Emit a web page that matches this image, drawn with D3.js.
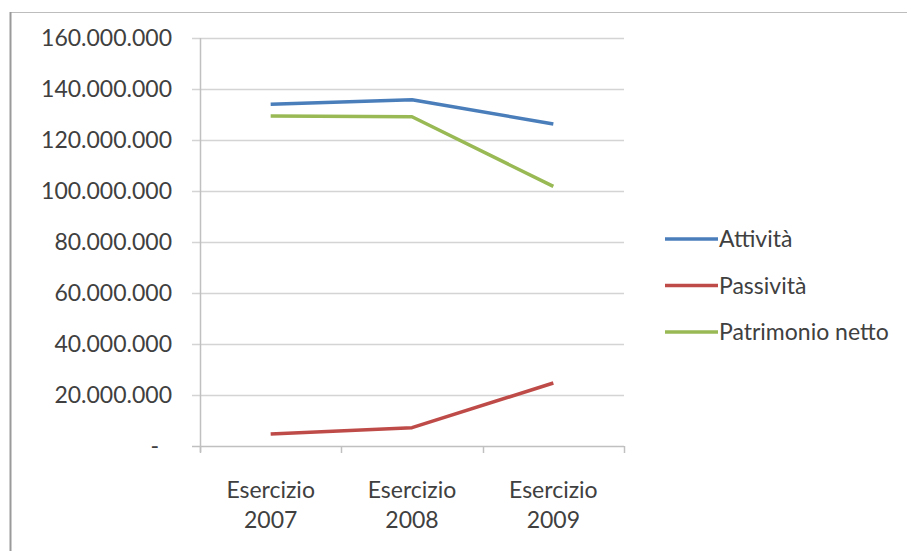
<!DOCTYPE html>
<html>
<head>
<meta charset="utf-8">
<script src="https://cdn.jsdelivr.net/npm/d3@7"></script>
<style>
  body { margin: 0; background: #fff; }
  svg text { font-family: Lato, "Open Sans", sans-serif; fill: #404040; }
</style>
</head>
<body>
<svg width="907" height="551"></svg>
<script>
var categories = ["Esercizio 2007", "Esercizio 2008", "Esercizio 2009"],
    seriesNames = ["Attività", "Passività", "Patrimonio netto"],
    attivita = [134000000, 135800000, 126300000],
    passivita = [4700000, 7200000, 24700000],
    patrimonio = [129400000, 129100000, 101800000],
    yTicks = [0, 20000000, 40000000, 60000000, 80000000, 100000000, 120000000, 140000000, 160000000],
    colors = ["#4a7ebb", "#be4b48", "#98b954"];

var series = [attivita, passivita, patrimonio].map(function(v, i) {
  return {name: seriesNames[i], values: v, color: colors[i]};
});

var svg = d3.select("svg");

// outer frame
svg.append("line").attr("x1", 10).attr("x2", 907).attr("y1", 12.5).attr("y2", 12.5)
    .attr("stroke", "#bdbdbd").attr("stroke-width", 1);
svg.append("line").attr("x1", 10.5).attr("x2", 10.5).attr("y1", 12).attr("y2", 551)
    .attr("stroke", "#9a9a9a").attr("stroke-width", 2);

var x = d3.scaleBand().domain(categories).range([200, 624]),
    y = d3.scaleLinear().domain([0, 160000000]).range([446, 38]);

var fmt = function(d) {
  return d === 0 ? "-" : d3.format(",")(d).replace(/,/g, ".");
};

// gridlines
svg.append("g").selectAll("line").data(yTicks.filter(function(d) { return d > 0; }))
  .enter().append("line")
    .attr("x1", 192).attr("x2", 624)
    .attr("y1", function(d) { return Math.round(y(d)) + 0.5; })
    .attr("y2", function(d) { return Math.round(y(d)) + 0.5; })
    .attr("stroke", "#d4d4d4").attr("stroke-width", 1.5);

// axes
svg.append("line").attr("x1", 200.5).attr("x2", 200.5).attr("y1", 38).attr("y2", 452)
    .attr("stroke", "#c0c0c0").attr("stroke-width", 1.5);
svg.append("line").attr("x1", 192).attr("x2", 624).attr("y1", 446.5).attr("y2", 446.5)
    .attr("stroke", "#c0c0c0").attr("stroke-width", 1.5);

svg.append("g").selectAll("text").data(yTicks).enter().append("text")
    .attr("x", function(d) { return d === 0 ? 159 : 172; })
    .attr("y", function(d) { return y(d); })
    .attr("dy", "0.35em")
    .attr("text-anchor", "end")
    .style("font-size", "23px")
    .text(fmt);

// x ticks
var xTickPos = categories.map(function(c) { return x(c); }).concat([x.range()[1]]);
svg.append("g").selectAll("line").data(xTickPos).enter().append("line")
    .attr("x1", function(d) { return Math.round(d) + 0.5; })
    .attr("x2", function(d) { return Math.round(d) + 0.5; })
    .attr("y1", 446).attr("y2", 453)
    .attr("stroke", "#c0c0c0").attr("stroke-width", 1.5);

var xl = svg.append("g").selectAll("text").data(categories).enter().append("text")
    .attr("x", function(d) { return x(d) + x.bandwidth() / 2; })
    .attr("y", 490)
    .attr("text-anchor", "middle")
    .style("font-size", "23px");
xl.append("tspan").attr("dy", "0.35em").text(function(d) { return d.split(" ")[0]; });
xl.append("tspan")
    .attr("x", function(d) { return x(d) + x.bandwidth() / 2; })
    .attr("dy", "1.3em")
    .text(function(d) { return d.split(" ")[1]; });

// lines
var line = d3.line()
    .x(function(d, i) { return x(categories[i]) + x.bandwidth() / 2; })
    .y(function(d) { return y(d); });

svg.append("g").selectAll("path").data(series).enter().append("path")
    .attr("d", function(d) { return line(d.values); })
    .attr("fill", "none")
    .attr("stroke", function(d) { return d.color; })
    .attr("stroke-width", 3.5)
    .attr("stroke-linejoin", "round");

// legend
var leg = svg.append("g").selectAll("g").data(series).enter().append("g")
    .attr("transform", function(d, i) { return "translate(665," + (239 + i * 46.5) + ")"; });
leg.append("line").attr("x1", 0).attr("x2", 53)
    .attr("stroke", function(d) { return d.color; }).attr("stroke-width", 3.5);
leg.append("text").attr("x", 54).attr("dy", "0.35em")
    .style("font-size", "23px")
    .text(function(d) { return d.name; });
</script>
</body>
</html>
